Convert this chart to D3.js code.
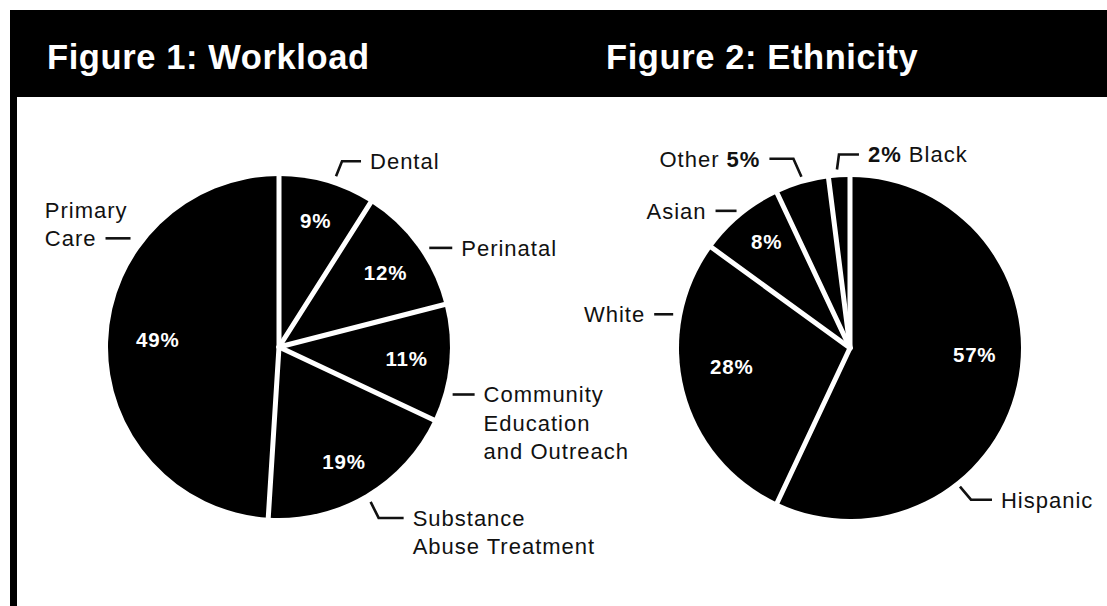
<!DOCTYPE html>
<html>
<head>
<meta charset="utf-8">
<script src="https://cdn.jsdelivr.net/npm/d3@7"></script>
<style>
  html, body { margin: 0; padding: 0; background: #fff; }
  svg { display: block; }
  text { font-family: "Liberation Sans", Arial, Helvetica, sans-serif; }
</style>
</head>
<body>
<svg id="chart" width="1107" height="606"></svg>
<script>
// ---------- DATA ----------
const titles = ["Figure 1: Workload", "Figure 2: Ethnicity"];

const workloadCategories = ["Dental", "Perinatal", "Community Education and Outreach", "Substance Abuse Treatment", "Primary Care"];
const workloadValues = [9, 12, 11, 19, 49];
const workloadLabelLines = [["Dental"], ["Perinatal"], ["Community", "Education", "and Outreach"], ["Substance", "Abuse Treatment"], ["Primary", "Care"]];

const ethnicityCategories = ["Hispanic", "White", "Asian", "Other", "Black"];
const ethnicityValues = [57, 28, 8, 5, 2];
// which slices show their % inside the pie (others show it in the outer label)
const ethnicityInside = [true, true, true, false, false];

// ---------- LAYOUT / STYLE ----------
const W = 1107, H = 606;
const svg = d3.select("#chart");

// frame: black header band and left rule
svg.append("rect").attr("x", 10).attr("y", 10).attr("width", W - 10).attr("height", 87).attr("fill", "#000");
svg.append("rect").attr("x", 10).attr("y", 10).attr("width", 7).attr("height", H - 10).attr("fill", "#000");

svg.selectAll("text.title").data(titles).join("text")
  .attr("class", "title")
  .attr("x", (d, i) => [47, 606][i])
  .attr("y", 69)
  .attr("fill", "#fff")
  .attr("font-weight", "bold")
  .attr("font-size", 34.5)
  .style("letter-spacing", "0.6px")
  .text(d => d);

const pieGen = d3.pie().sort(null).value(d => d.value).startAngle(0).endAngle(2 * Math.PI);

function polar(cx, cy, r, a) { return [cx + r * Math.sin(a), cy - r * Math.cos(a)]; }

function drawPie(cfg) {
  const g = svg.append("g");
  const data = cfg.values.map((v, i) => ({ value: v, cat: cfg.categories[i], i }));
  const arcs = pieGen(data);
  const arc = d3.arc().innerRadius(0).outerRadius(cfg.r);

  // slices
  g.selectAll("path.slice").data(arcs).join("path")
    .attr("class", "slice")
    .attr("transform", `translate(${cfg.cx},${cfg.cy})`)
    .attr("d", arc)
    .attr("fill", "#000");

  // white seams between slices
  g.selectAll("line.seam").data(arcs).join("line")
    .attr("class", "seam")
    .attr("x1", cfg.cx).attr("y1", cfg.cy)
    .attr("x2", d => polar(cfg.cx, cfg.cy, cfg.r + 2, d.startAngle)[0])
    .attr("y2", d => polar(cfg.cx, cfg.cy, cfg.r + 2, d.startAngle)[1])
    .attr("stroke", "#fff").attr("stroke-width", 5).attr("stroke-linecap", "round");

  // inside percentage labels
  arcs.forEach((d, k) => {
    if (cfg.inside && !cfg.inside[k]) return;
    const st = cfg.pctStyle[k];
    const mid = (d.startAngle + d.endAngle) / 2 + st.shift * Math.PI / 180;
    const [x, y] = polar(cfg.cx, cfg.cy, cfg.r * st.rf, mid);
    g.append("text")
      .attr("x", x).attr("y", y).attr("dy", "0.36em")
      .attr("text-anchor", "middle")
      .attr("fill", "#fff").attr("font-weight", "bold").attr("font-size", 20.5)
      .style("letter-spacing", "0.8px")
      .text(d.data.value + "%");
  });

  // outer labels with leader lines
  arcs.forEach((d, k) => {
    const L = cfg.leaders[k];
    const a = d.startAngle + (d.endAngle - d.startAngle) * L.at;
    const p0 = polar(cfg.cx, cfg.cy, cfg.r + (L.gap || 9), a);
    const p1 = [p0[0] + L.kink[0], p0[1] + L.kink[1]];
    const p2 = [p1[0] + L.run, p1[1]];
    g.append("path")
      .attr("d", d3.line()([p0, p1, p2]))
      .attr("fill", "none").attr("stroke", "#111").attr("stroke-width", 2.6)
      .attr("stroke-linejoin", "miter");

    const lines = cfg.lines[k];
    const lh = 28.5;
    const right = L.run > 0;
    const t = g.append("text")
      .attr("font-size", 22).attr("fill", "#111")
      .style("letter-spacing", "1px");
    const firstY = L.alignLast ? p2[1] - lh * (lines.length - 1) : p2[1];
    lines.forEach((ln, j) => {
      const ts = t.append("tspan").attr("y", firstY + j * lh).attr("dy", "0.36em");
      if (Array.isArray(ln)) {
        ln.forEach(part => ts.append("tspan").attr("font-weight", part.b ? "bold" : null).text(part.t));
      } else {
        ts.text(ln);
      }
    });
    if (right) {
      t.selectAll(":scope > tspan").attr("x", p2[0] + 9);
    } else {
      // left-aligned block whose last line ends just before the leader
      const last = t.selectAll(":scope > tspan").nodes();
      const lastW = last[last.length - 1].getComputedTextLength();
      const x = p2[0] - 9 - lastW;
      t.selectAll(":scope > tspan").attr("x", x);
    }
  });
}

drawPie({
  cx: 279, cy: 347, r: 171,
  values: workloadValues, categories: workloadCategories,
  lines: workloadLabelLines,
  pctStyle: [{ rf: 0.77, shift: 0 }, { rf: 0.76, shift: 1 }, { rf: 0.75, shift: 0 }, { rf: 0.77, shift: 1 }, { rf: 0.71, shift: 1.5 }],
  leaders: [
    { at: 0.57, kink: [6, -15], run: 19 },
    { at: 0.56, kink: [0, 0], run: 23 },
    { at: 0.75, kink: [0, 0], run: 22 },
    { at: 0.50, kink: [8, 16], run: 25 },
    { at: 0.695, gap: 13, kink: [0, 0], run: -25, alignLast: true }
  ]
});

drawPie({
  cx: 850, cy: 348, r: 171,
  values: ethnicityValues, categories: ethnicityCategories,
  inside: ethnicityInside,
  lines: [
    ["Hispanic"],
    ["White"],
    ["Asian"],
    [[{ t: "Other " }, { t: ethnicityValues[3] + "%", b: true }]],
    [[{ t: ethnicityValues[4] + "%", b: true }, { t: " Black" }]]
  ],
  pctStyle: [{ rf: 0.73, shift: -9.6 }, { rf: 0.70, shift: 5.4 }, { rf: 0.79, shift: 1.5 }, { rf: 0.8, shift: 0 }, { rf: 0.8, shift: 0 }],
  leaders: [
    { at: 0.69, gap: 6, kink: [11, 13], run: 21 },
    { at: 0.75, kink: [0, 0], run: -19 },
    { at: 0.50, gap: 7, kink: [0, 0], run: -21 },
    { at: 0.52, gap: 7, kink: [-8, -18], run: -24 },
    { at: 0.42, gap: 8, kink: [2, -15], run: 20 }
  ]
});
</script>
</body>
</html>
